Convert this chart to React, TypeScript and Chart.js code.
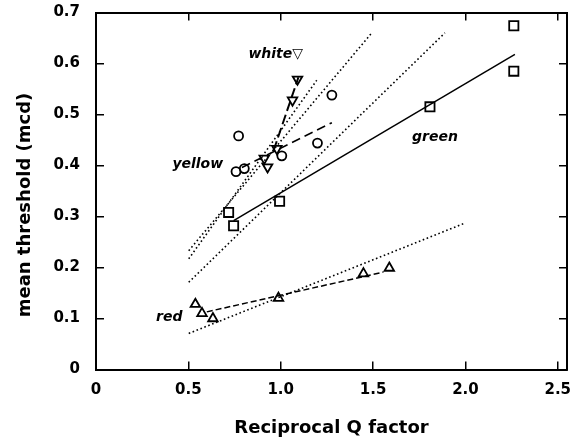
import React, { useEffect, useRef } from "react";
import { Chart, registerables } from "chart.js";

Chart.register(...registerables);

// ---- data ----
const greenX = [0.718, 0.745, 0.994, 1.808, 2.262, 2.262];
const greenY = [0.308, 0.282, 0.33, 0.515, 0.674, 0.585];

const yellowX = [0.758, 0.772, 0.803, 1.006, 1.199, 1.277];
const yellowY = [0.388, 0.458, 0.394, 0.419, 0.444, 0.538];

const whiteX = [0.911, 0.929, 0.979, 1.064, 1.091];
const whiteY = [0.414, 0.397, 0.433, 0.528, 0.569];

const redX = [0.538, 0.574, 0.633, 0.988, 1.448, 1.588];
const redY = [0.128, 0.11, 0.1, 0.14, 0.188, 0.199];

// fitted lines: [x0, y0, x1, y1]
const greenFit = [0.745, 0.292, 2.268, 0.618];
const yellowFit = [0.79, 0.396, 1.277, 0.484];
const whiteFit = [0.961, 0.429, 1.096, 0.573];
const redFit = [0.6, 0.113, 1.556, 0.191];

// dotted lines
const dotted1 = [0.502, 0.0707, 1.997, 0.287];
const dotted2 = [0.502, 0.171, 1.889, 0.66];
const dotted3 = [0.502, 0.233, 1.493, 0.66];
const dotted4 = [0.502, 0.217, 1.195, 0.567];

const xTicks = [0, 0.5, 1, 1.5, 2, 2.5];
const yTicks = [0, 0.1, 0.2, 0.3, 0.4, 0.5, 0.6, 0.7];

const labelTexts = ["white\u25BD", "yellow", "green", "red"];
const labelX = [0.973, 0.551, 1.835, 0.397];
const labelY = [0.618, 0.403, 0.456, 0.102];

const FONT = "'DejaVu Sans', sans-serif";

const pts = (xs: number[], ys: number[]) => xs.map((x, i) => ({ x, y: ys[i] }));
const seg = (s: number[]) => [
  { x: s[0], y: s[1] },
  { x: s[2], y: s[3] },
];

const lineDs = (s: number[], dash: number[], width: number) => ({
  type: "scatter" as const,
  data: seg(s),
  showLine: true,
  borderColor: "#000",
  borderWidth: width,
  borderDash: dash,
  pointRadius: 0,
  fill: false,
});

const markerDs = (xs: number[], ys: number[], style: string, radius: number, rotation = 0) => ({
  type: "scatter" as const,
  data: pts(xs, ys),
  showLine: false,
  pointStyle: style,
  pointRadius: radius,
  pointRotation: rotation,
  pointBorderColor: "#000",
  pointBackgroundColor: "rgba(0,0,0,0)",
  pointBorderWidth: 1.8,
  borderColor: "#000",
  backgroundColor: "rgba(0,0,0,0)",
});

const textPlugin = {
  id: "annotText",
  afterDatasetsDraw(chart: any) {
    const { ctx, scales, chartArea } = chart;
    ctx.save();
    ctx.fillStyle = "#000";
    ctx.font = `italic bold 14px ${FONT}`;
    ctx.textAlign = "center";
    ctx.textBaseline = "middle";
    labelTexts.forEach((t, i) => {
      ctx.fillText(t, scales.x.getPixelForValue(labelX[i]), scales.y.getPixelForValue(labelY[i]));
    });
    // y axis title
    ctx.font = `bold 18px ${FONT}`;
    ctx.translate(chartArea.left - 71, (chartArea.top + chartArea.bottom) / 2 + 14);
    ctx.rotate(-Math.PI / 2);
    ctx.fillText("mean threshold (mcd)", 0, 0);
    ctx.restore();
  },
};

const gridOpts = {
  drawOnChartArea: false,
  drawTicks: true,
  tickLength: -8,
  color: "#000",
  lineWidth: 1.5,
};
const borderOpts = { display: true, color: "#000", width: 2 };

const noPad = (s: any) => {
  s.paddingTop = 0;
  s.paddingBottom = 0;
  s.paddingLeft = 0;
  s.paddingRight = 0;
};

export default function App() {
  const ref = useRef<HTMLCanvasElement | null>(null);
  useEffect(() => {
    if (!ref.current) return;
    const chart = new Chart(ref.current, {
      type: "scatter",
      data: {
        datasets: [
          lineDs(dotted1, [1.6, 2.6], 1.6),
          lineDs(dotted2, [1.6, 2.6], 1.6),
          lineDs(dotted3, [1.6, 2.6], 1.6),
          lineDs(dotted4, [1.6, 2.6], 1.6),
          lineDs(greenFit, [], 1.5),
          lineDs(yellowFit, [9, 5], 1.6),
          lineDs(whiteFit, [10, 4], 2),
          lineDs(redFit, [6, 3], 1.5),
          markerDs(greenX, greenY, "rect", 6.5),
          markerDs(yellowX, yellowY, "circle", 4.5),
          markerDs(whiteX, whiteY, "triangle", 5.5, 180),
          markerDs(redX, redY, "triangle", 5.5),
        ] as any,
      },
      options: {
        animation: false,
        responsive: false,
        devicePixelRatio: 1,
        layout: { autoPadding: false, padding: { left: 0, right: 7, top: 12.5, bottom: 0 } },
        plugins: { legend: { display: false }, tooltip: { enabled: false } },
        scales: {
          x: {
            type: "linear",
            position: "bottom",
            min: 0,
            max: 2.55,
            afterBuildTicks: (s: any) => {
              s.ticks = xTicks.map((v) => ({ value: v }));
            },
            afterFit: (s: any) => {
              s.height = 72.5;
              noPad(s);
            },
            grid: gridOpts,
            border: borderOpts,
            ticks: {
              padding: 20,
              color: "#000",
              font: { family: FONT, size: 15, weight: "bold" },
              callback: (v: any) => (v === 0 ? "0" : Number(v).toFixed(1)),
            },
            title: {
              display: true,
              text: "Reciprocal Q factor",
              color: "#000",
              font: { family: FONT, size: 18, weight: "bold" },
              padding: { top: 0, bottom: 3 },
            },
          },
          x2: {
            type: "linear",
            position: "top",
            min: 0,
            max: 2.55,
            afterBuildTicks: (s: any) => {
              s.ticks = xTicks.map((v) => ({ value: v }));
            },
            afterFit: (s: any) => {
              s.height = 0;
              noPad(s);
            },
            grid: gridOpts,
            border: borderOpts,
            ticks: { display: false },
          },
          y: {
            type: "linear",
            position: "left",
            min: 0,
            max: 0.7,
            afterBuildTicks: (s: any) => {
              s.ticks = yTicks.map((v) => ({ value: v }));
            },
            afterFit: (s: any) => {
              s.width = 96;
              noPad(s);
            },
            grid: gridOpts,
            border: borderOpts,
            ticks: {
              padding: 24,
              color: "#000",
              font: { family: FONT, size: 15, weight: "bold" },
              callback: (v: any) => (v === 0 ? "0" : Number(v).toFixed(1)),
            },
          },
          y2: {
            type: "linear",
            position: "right",
            min: 0,
            max: 0.7,
            afterBuildTicks: (s: any) => {
              s.ticks = yTicks.map((v) => ({ value: v }));
            },
            afterFit: (s: any) => {
              s.width = 0;
              noPad(s);
            },
            grid: gridOpts,
            border: borderOpts,
            ticks: { display: false },
          },
        },
      } as any,
      plugins: [textPlugin],
    });
    return () => chart.destroy();
  }, []);
  return (
    <div style={{ position: "absolute", left: 0, top: 0, width: 574, height: 442, background: "#fff" }}>
      <canvas ref={ref} width={574} height={442} style={{ display: "block" }} />
    </div>
  );
}
